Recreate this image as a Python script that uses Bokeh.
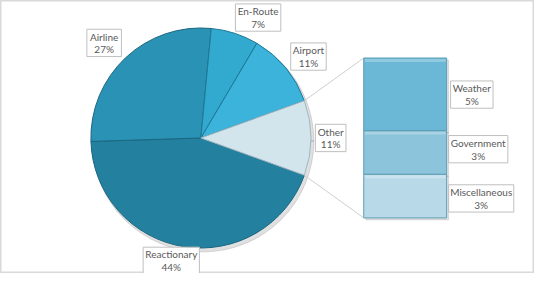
import math
from bokeh.plotting import figure
from bokeh.models import Range1d
from bokeh.core.properties import value
from bokeh.embed import file_html
from bokeh.resources import INLINE

# ---- data ----
categories = ["Reactionary", "Airline", "En-Route", "Airport", "Other"]
values = [44, 27, 7, 11, 11]
bar_categories = ["Weather", "Government", "Miscellaneous"]
bar_values = [5, 3, 3]

# ---- style / layout ----
pie_colors = {"Reactionary": "#24809F", "Airline": "#2A93B5", "En-Route": "#32A9CF",
              "Airport": "#3BB3DA", "Other": "#D3E5EC"}
pie_lines = {"Reactionary": "#1B6580", "Airline": "#1B6580", "En-Route": "#1E7896",
             "Airport": "#1E7896", "Other": "#9DB6C0"}
bar_colors = ["#6AB8D6", "#8CC5DB", "#B8DAE8"]
label_layout = {  # centre x, centre y (image px), box width
    "Reactionary": (177, 270, 57), "Airline": (109, 46.5, 35), "En-Route": (265, 20.5, 46),
    "Airport": (316, 60.5, 36), "Other": (338.5, 144, 31),
    "Weather": (481.5, 99.5, 43), "Government": (488, 155.5, 60), "Miscellaneous": (491, 206, 66),
}
W, H = 534, 273
X0, X1, YT, YB = 4, 545, 3, 283
IMG_H = 289
sx = W / (X1 - X0)
sy = H / (YB - YT)
def Y(img_y):
    return IMG_H - img_y

cx, cy, R = 207, Y(144), 110  # pie centre and radius (screen px)
bar_left, bar_right, bar_top = 372, 456, Y(62)
px_per_pct = 164 / sum(bar_values)
text_color = "#595959"
font = value("Lato")

p = figure(width=W, height=H, x_range=Range1d(X0, X1), y_range=Range1d(Y(YB), Y(YT)),
           output_backend="svg", toolbar_location=None, min_border=0)
p.axis.visible = False
p.grid.visible = False
p.outline_line_color = "#D9D9D9"
p.outline_line_width = 2
p.background_fill_color = "white"
p.border_fill_color = "white"

# pie: "Other" centred on 3 o'clock, slices go counter-clockwise
total = sum(values)
other_idx = categories.index("Other")
start = -math.pi * values[other_idx] / total
order = [categories.index(c) for c in ["Other", "Airport", "En-Route", "Airline", "Reactionary"]]
angles = {}
a = start
for i in order:
    span = 2 * math.pi * values[i] / total
    angles[categories[i]] = (a, a + span)
    a += span

# soft shadow
p.wedge(x=[cx + 2 / sx], y=[cy - 3 / sy], radius=R + 1, radius_units="screen",
        start_angle=[0], end_angle=[2 * math.pi], color="#000000", alpha=0.12)
for c in categories:
    s, e = angles[c]
    p.wedge(x=[cx], y=[cy], radius=R, radius_units="screen", start_angle=[s], end_angle=[e],
            fill_color=pie_colors[c], line_color=pie_lines[c], line_width=1)

# connector lines
so, eo = angles["Other"]
bar_bottom = bar_top - px_per_pct * sum(bar_values)
p.line(x=[cx + R * math.cos(eo) / sx, bar_left], y=[cy + R * math.sin(eo) / sy, bar_top],
       line_color="#CFCFCF", line_width=1)
p.line(x=[cx + R * math.cos(so) / sx, bar_left], y=[cy + R * math.sin(so) / sy, bar_bottom],
       line_color="#CFCFCF", line_width=1)

# stacked bar
top = bar_top
for i, v in enumerate(bar_values):
    bot = top - v * px_per_pct
    p.quad(left=[bar_left + 2 / sx], right=[bar_right + 2 / sx], top=[top - 2], bottom=[bot - 2],
           color="#000000", alpha=0.10)
    p.quad(left=[bar_left], right=[bar_right], top=[top], bottom=[bot],
           fill_color=bar_colors[i], line_color="#5E9CB2", line_width=1)
    p.quad(left=[bar_left + 1], right=[bar_right - 1], top=[top - 1], bottom=[top - 4],
           fill_color="white", fill_alpha=0.25, line_alpha=0)
    top = bot

# labels
def label(name, pct):
    lx, ly, bw = label_layout[name]
    p.quad(left=[lx - bw / 2], right=[lx + bw / 2], top=[Y(ly - 14)], bottom=[Y(ly + 14)],
           fill_color="white", line_color="#BFBFBF", line_width=1)
    p.text(x=[lx, lx], y=[Y(ly - 6.5), Y(ly + 6.5)], text=[name, f"{pct}%"],
           text_align="center", text_baseline="middle", text_font=font,
           text_font_size="10px", text_color=text_color)

for c, v in zip(categories, values):
    label(c, round(100 * v / total))
for c, v in zip(bar_categories, bar_values):
    label(c, round(100 * v / total))

open("out.html", "w").write(file_html(p, INLINE))
